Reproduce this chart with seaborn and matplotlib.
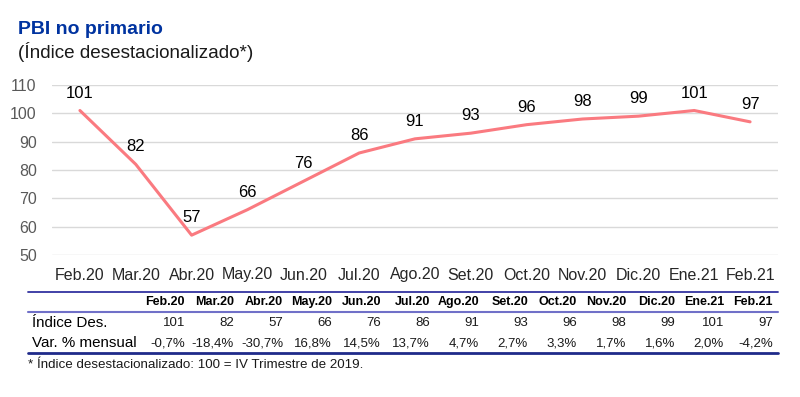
import matplotlib
matplotlib.use("Agg")
import matplotlib.pyplot as plt
import seaborn as sns
import pandas as pd

# data
meses = ["Feb.20", "Mar.20", "Abr.20", "May.20", "Jun.20", "Jul.20", "Ago.20",
         "Set.20", "Oct.20", "Nov.20", "Dic.20", "Ene.21", "Feb.21"]
indice = [101, 82, 57, 66, 76, 86, 91, 93, 96, 98, 99, 101, 97]
var_mensual = ["-0,7%", "-18,4%", "-30,7%", "16,8%", "14,5%", "13,7%", "4,7%",
               "2,7%", "3,3%", "1,7%", "1,6%", "2,0%", "-4,2%"]
y_ticks = [50, 60, 70, 80, 90, 100, 110]

df = pd.DataFrame({"mes": meses, "indice": indice})

sns.set_theme(style="white")
plt.rcParams["font.family"] = ["Liberation Sans", "DejaVu Sans"]

W, H = 800, 397
fig = plt.figure(figsize=(8, 3.97), dpi=100)

def fx(px):
    return px / W

def fy(py):
    return 1 - py / H

LINE = "#FA7A80"
BLUE = "#0033A0"

# chart
ax = fig.add_axes([fx(52), fy(255), fx(778 - 52), (255 - 85) / H])
sns.lineplot(data=df, x="mes", y="indice", sort=False, color=LINE, linewidth=2.2, ax=ax)
ax.set_ylim(50, 110)
ax.set_xlim(-0.5, len(meses) - 0.5)
ax.set_yticks(y_ticks)
ax.grid(axis="y", color="#D9D9D9", linewidth=1)
ax.set_axisbelow(True)
for s in ax.spines.values():
    s.set_visible(False)
ax.tick_params(axis="y", labelsize=11.5, colors="#595959", length=0, pad=11)
ax.tick_params(axis="x", labelsize=11.5, colors="#262626", length=0, pad=9)
ax.set_xlabel("")
ax.set_ylabel("")
for i, v in enumerate(indice):
    ax.annotate(str(v), (i, v), xytext=(0, 12.5), textcoords="offset points",
                ha="center", va="center", fontsize=12, color="black", annotation_clip=False)

# titles
fig.text(fx(18), fy(29), "PBI no primario", fontsize=14, fontweight="bold", color=BLUE,
         ha="left", va="center")
fig.text(fx(18), fy(52), "(Índice desestacionalizado*)", fontsize=13.6, color="#1a1a1a",
         ha="left", va="center")

# table below the chart
tab = fig.add_axes([0, 0, 1, 1])
tab.set_xlim(0, W)
tab.set_ylim(H, 0)
tab.axis("off")
tab.plot([28, 778], [292, 292], color="#3333A0", lw=1.3)
tab.plot([28, 778], [312, 312], color="#7070C8", lw=1.5)
tab.plot([28, 778], [353, 353], color="#1F2A8A", lw=2)

col_right = [185 + i * 49 for i in range(len(meses))]
for x, m, v, p in zip(col_right, meses, indice, var_mensual):
    tab.text(x, 302, m, ha="right", va="center", fontsize=9, fontweight="bold", color="black")
    tab.text(x, 323, str(v), ha="right", va="center", fontsize=9.5, color="#1a1a1a")
    tab.text(x, 343, p, ha="right", va="center", fontsize=9.5, color="#1a1a1a")
tab.text(32, 323, "Índice Des.", ha="left", va="center", fontsize=10.9, color="black")
tab.text(32, 343, "Var. % mensual", ha="left", va="center", fontsize=10.9, color="black")
tab.text(28, 365, "* Índice desestacionalizado: 100 = IV Trimestre de 2019.", ha="left",
         va="center", fontsize=9.6, color="#1a1a1a")

fig.savefig("out.png", dpi=100)
